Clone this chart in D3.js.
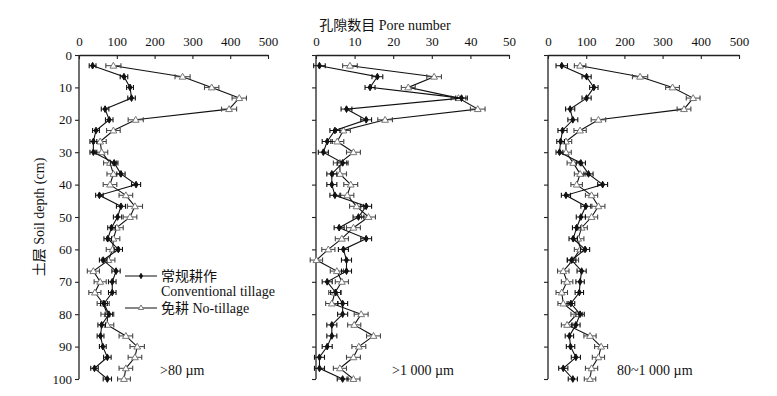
<!DOCTYPE html>
<html><head><meta charset="utf-8">
<script src="https://cdn.jsdelivr.net/npm/d3@7"></script>
<style>
body{margin:0;background:#fff;}
text{font-family:"Liberation Serif","Times New Roman","Noto Sans CJK SC",serif;fill:#111;}
</style></head>
<body><svg id="c" width="777" height="396"></svg>
<script>
// ---- data ----
const depths = [3.3,6.7,10,13.3,16.7,20,23.3,26.7,30,33.3,36.7,40,43.3,46.7,50,53.3,56.7,60,63.3,66.7,70,73.3,76.7,80,83.3,86.7,90,93.3,96.7,100];
const yTicks = [0,10,20,30,40,50,60,70,80,90,100];

// >80 µm
const ctA = [36,119,135,139,69,80,45,38,38,93,111,151,54,111,102,86,76,104,64,98,88,88,66,79,60,57,63,75,41,75];
const ntA = [91,274,351,424,397,150,91,56,60,82,91,82,124,148,135,100,91,89,78,38,56,42,64,75,75,124,154,148,124,119];
const ctAErr = [9,10,9,10,10,10,9,9,9,10,11,12,10,12,11,10,10,11,10,11,10,10,9,10,10,9,9,10,10,11];
const ntAErr = [20,20,19,19,20,20,18,16,16,17,17,18,18,20,18,17,17,17,17,16,16,16,16,17,17,18,19,18,18,17];

// >1 000 µm
const ctB = [0.9,15.9,14.0,37.7,7.9,13.0,4.9,2.9,1.9,6.9,4.1,4.1,4.9,13.0,11.0,6.0,13.0,7.1,7.9,7.9,2.9,5.1,6.9,6.9,4.1,4.1,2.9,0.9,0.9,6.9];
const ntB = [8.8,30.6,23.9,36.9,41.9,17.9,7.1,5.5,9.7,6.2,6.2,9.0,8.1,10.5,13.6,9.7,6.7,3.2,0.1,5.4,6.7,4.9,4.1,11.7,9.9,14.9,11.1,9.7,6.2,9.7];
const ctBErr = [1.5,1.4,1.3,1.5,1.4,1.4,1.3,1.3,1.3,1.4,1.3,1.3,1.3,1.4,1.4,1.3,1.4,1.3,1.3,1.3,1.3,1.3,1.3,1.3,1.3,1.3,1.3,1.3,1.3,1.4];
const ntBErr = [1.9,1.9,1.8,1.9,1.9,1.9,1.8,1.7,1.8,1.7,1.7,1.8,1.7,1.8,1.8,1.8,1.7,1.7,1.6,1.7,1.7,1.6,1.6,1.8,1.7,1.8,1.8,1.8,1.7,1.7];

// 80~1 000 µm
const ctC = [36,101,120,101,58,65,38,33,30,86,106,143,47,99,86,75,66,97,62,88,84,82,60,84,73,56,59,73,40,65];
const ntC = [84,241,326,380,356,132,84,47,47,66,84,75,114,132,114,88,79,84,65,40,50,36,40,75,50,110,139,132,114,110];
const ctCErr = [15,12,11,12,12,13,12,10,9,12,12,13,12,13,12,11,11,12,11,12,11,11,10,11,11,11,11,12,12,12];
const ntCErr = [15,20,18,18,18,19,16,15,14,16,15,15,16,17,16,15,15,15,15,15,15,15,14,15,15,16,17,16,16,15];

const panelLabels = [">80 \u00b5m", ">1 000 \u00b5m", "80~1 000 \u00b5m"];
const xMaxes = [500, 50, 500];
const xTickVals = [[0,100,200,300,400,500],[0,10,20,30,40,50],[0,100,200,300,400,500]];
const seriesNames = ["常规耕作", "Conventional tillage", "免耕 No-tillage"];
const titleText = "孔隙数目 Pore number";
const yTitle = "土层 Soil depth (cm)";

// ---- drawing ----
const svg = d3.select("#c");
const yTop = 55, yBot = 379;
const panelX = [[79,268],[316,509],[548,739]];
const y = d3.scaleLinear().domain([0,100]).range([yTop,yBot]);

const panels = [
  {ct:ctA, nt:ntA, ce:ctAErr, ne:ntAErr},
  {ct:ctB, nt:ntB, ce:ctBErr, ne:ntBErr},
  {ct:ctC, nt:ntC, ce:ctCErr, ne:ntCErr}
];

const tri = d3.symbol().type(d3.symbolTriangle).size(20);
const dia = d3.symbol().type(d3.symbolDiamond).size(13);
const triL = d3.symbol().type(d3.symbolTriangle).size(12);
const diaL = d3.symbol().type(d3.symbolDiamond).size(8);

panels.forEach((p,i)=>{
  const x = d3.scaleLinear().domain([0,xMaxes[i]]).range(panelX[i]);
  const g = svg.append("g");
  const xa = g.append("g").attr("transform",`translate(0,${yTop})`)
    .call(d3.axisTop(x).tickValues(xTickVals[i]).tickSizeInner(-4).tickSizeOuter(0).tickPadding(9));
  const ya = g.append("g").attr("transform",`translate(${panelX[i][0]},0)`)
    .call(d3.axisLeft(y).tickValues(yTicks).tickSize(4).tickSizeOuter(0).tickPadding(3)
      .tickFormat(i===0? d3.format("d") : ()=>""));
  [xa,ya].forEach(a=>{
    a.selectAll("path").attr("stroke","#222").attr("stroke-width",1.3);
    a.selectAll("line").attr("stroke","#222").attr("stroke-width",1.1);
    a.selectAll("text").style("font-size","13px").style("font-family","'Liberation Serif',serif").attr("fill","#111");
  });
  ya.select(".domain").attr("d",`M0,${yTop}V${yBot}`);

  const draw = (vals, errs, isNT) => {
    const line = d3.line().x((d,j)=>x(vals[j])).y((d,j)=>y(depths[j]));
    g.append("path").datum(depths).attr("d",line).attr("fill","none")
      .attr("stroke","#111").attr("stroke-width",1.1);
    const eb = g.append("g");
    const col = isNT ? "#444" : "#111";
    depths.forEach((d,j)=>{
      const x0 = x(vals[j]-errs[j]), x1 = x(vals[j]+errs[j]), yy = y(d);
      eb.append("line").attr("x1",x0).attr("x2",x1).attr("y1",yy).attr("y2",yy)
        .attr("stroke",col).attr("stroke-width",1);
      [x0,x1].forEach(xx=>eb.append("line").attr("x1",xx).attr("x2",xx)
        .attr("y1",yy-2.5).attr("y2",yy+2.5).attr("stroke",col).attr("stroke-width",1.1));
    });
    g.append("g").selectAll("path").data(depths).join("path")
      .attr("transform",(d,j)=>`translate(${x(vals[j])},${y(d)+(isNT?0.5:0)})`)
      .attr("d", isNT? tri : dia)
      .attr("fill", isNT? "#fff" : "#111")
      .attr("stroke", isNT? "#777" : "#111").attr("stroke-width",1);
  };
  draw(p.nt, p.ne, true);
  draw(p.ct, p.ce, false);

  g.append("text").attr("x", panelX[i][0]+ (i===0?81:(i===1?76:69))).attr("y",375)
    .style("font-size","14px").text(panelLabels[i]);
});

// legend
const lg = svg.append("g");
lg.append("line").attr("x1",125).attr("x2",157).attr("y1",276).attr("y2",276).attr("stroke","#111");
lg.append("path").attr("d",diaL).attr("transform","translate(141,276)").attr("fill","#111").attr("stroke","#111");
lg.append("text").attr("x",161).attr("y",281).style("font-size","14px").text(seriesNames[0]);
lg.append("text").attr("x",161).attr("y",296).style("font-size","14px").text(seriesNames[1]);
lg.append("line").attr("x1",125).attr("x2",157).attr("y1",308).attr("y2",308).attr("stroke","#111");
lg.append("path").attr("d",triL).attr("transform","translate(141,308)").attr("fill","#fff").attr("stroke","#777");
lg.append("text").attr("x",161).attr("y",313).style("font-size","14px").text(seriesNames[2]);

// titles
svg.append("text").attr("x",385).attr("y",30).attr("text-anchor","middle")
  .style("font-size","14px").text(titleText);
svg.append("text").attr("transform","translate(44,217) rotate(-90)").attr("text-anchor","middle")
  .style("font-size","14px").text(yTitle);
</script></body></html>
